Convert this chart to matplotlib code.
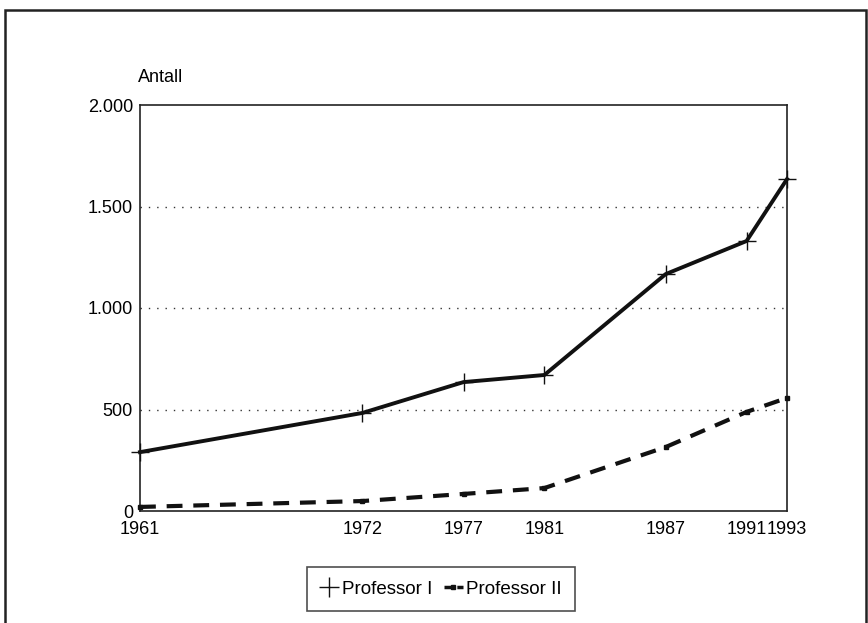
import matplotlib
matplotlib.use("Agg")
import matplotlib.pyplot as plt
from matplotlib.patches import Rectangle
from matplotlib.lines import Line2D

plt.rcParams['font.family'] = ['Liberation Sans', 'DejaVu Sans']

years = [1961, 1972, 1977, 1981, 1987, 1991, 1993]
professor_1 = [290, 483, 635, 670, 1167, 1330, 1635]
professor_2 = [20, 49, 84, 113, 315, 488, 557]
y_ticks = [0, 500, 1000, 1500, 2000]
y_labels = ["0", "500", "1.000", "1.500", "2.000"]

fig = plt.figure(figsize=(8.68, 6.23), dpi=100)
W, H = 868, 623
ax = fig.add_axes([140 / W, 1 - 511 / H, (787 - 140) / W, (511 - 105) / H])

# outer frame around the whole chart
fig.patches.append(Rectangle((5 / W, -0.05), (866 - 5) / W, 1 - 10 / H + 0.05,
                             transform=fig.transFigure, fill=False,
                             edgecolor="#222222", linewidth=1.8))

dash = (0, (3.8, 2.6))
ax.plot(years, professor_1, color="#111111", linewidth=2.8, marker="+",
        markersize=13, markeredgewidth=1.0, clip_on=False, zorder=3)
ax.plot(years, professor_2, color="#111111", linewidth=3.0, linestyle=dash,
        marker="s", markersize=3.5, clip_on=False, zorder=3)

ax.set_xlim(1961, 1993)
ax.set_ylim(0, 2000)
ax.set_xticks(years)
ax.set_xticklabels([str(y) for y in years], fontsize=13)
ax.set_yticks(y_ticks)
ax.set_yticklabels(y_labels, fontsize=13)
ax.tick_params(axis="y", length=0, pad=5)
ax.tick_params(axis="x", length=0, pad=7.5)

for y in [500, 1000, 1500]:
    ax.axhline(y, color="#333333", linewidth=1.0, linestyle=(0, (1, 5)), zorder=1)

for s in ax.spines.values():
    s.set_linewidth(1.2)
    s.set_color("#222222")

fig.text(138 / W, 1 - 77 / H, "Antall", fontsize=13, ha="left", va="center")

handles = [
    Line2D([], [], color="#111111", linestyle="none", marker="+",
           markersize=14, markeredgewidth=1.0),
    Line2D([], [], color="#111111", linewidth=2.5, linestyle=(0, (2.5, 1.2)),
           marker="s", markersize=3.5),
]
leg = fig.legend(handles, ["Professor I", "Professor II"], loc="center",
                 bbox_to_anchor=(441 / W, 1 - 589 / H), ncol=2,
                 frameon=True, fancybox=False, edgecolor="#222222", fontsize=13.5,
                 handlelength=1.0, handletextpad=0.2, columnspacing=0.6,
                 borderpad=0.7, borderaxespad=0)
leg.get_frame().set_linewidth(1.2)

fig.savefig("out.png", dpi=100)
